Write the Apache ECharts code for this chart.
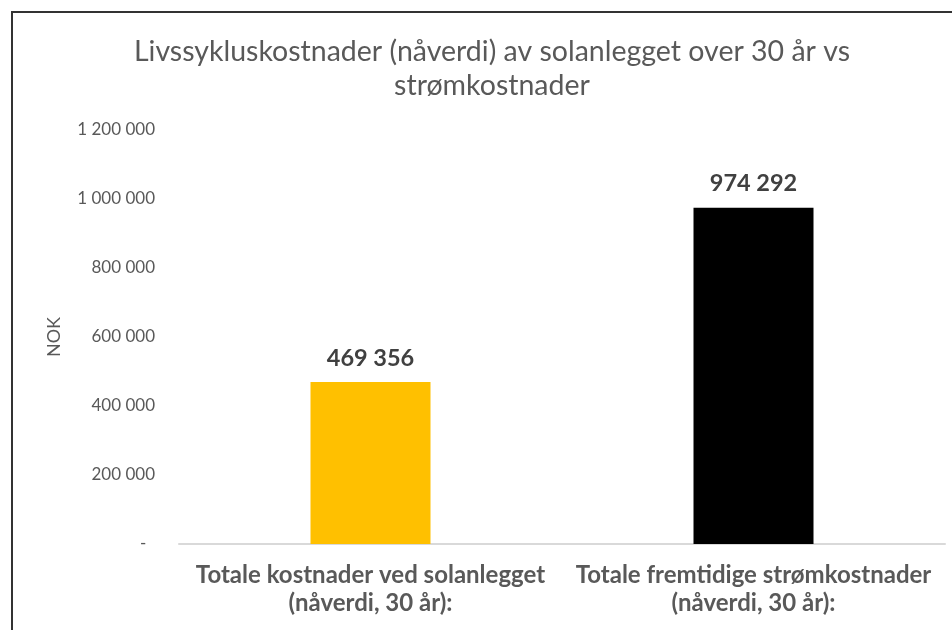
<!DOCTYPE html>
<html>
<head>
<meta charset="utf-8">
<script src="https://cdn.jsdelivr.net/npm/echarts@6/dist/echarts.min.js"></script>
<style>
  html, body { margin: 0; padding: 0; background: #fff; }
  #chart { width: 952px; height: 630px; }
</style>
</head>
<body>
<div id="chart"></div>
<script>
var categories = ['Totale kostnader ved solanlegget\n(nåverdi, 30 år):', 'Totale fremtidige strømkostnader\n(nåverdi, 30 år):'];
var values = [469356, 974292];
var barColors = ['#FFC000', '#000000'];
var yTicks = [0, 200000, 400000, 600000, 800000, 1000000, 1200000];

// tusenskille med mellomrom, null vises som "-"
function nok(v) {
    if (v === 0) return '-  ';
    return String(v).replace(/\B(?=(\d{3})+(?!\d))/g, ' ');
}

var myChart = echarts.init(document.getElementById('chart'));
var option = {
    animation: false,
    title: {
        text: 'Livssykluskostnader (nåverdi) av solanlegget over 30 år vs\nstrømkostnader',
        left: 487,
        textAlign: 'center',
        top: 30,
        textStyle: {
            fontFamily: 'Lato',
            fontSize: 28.5,
            fontWeight: 'normal',
            color: '#595959',
            lineHeight: 34
        }
    },
    graphic: [
        { type: 'line', shape: { x1: 11, y1: 12, x2: 952, y2: 12 }, style: { stroke: '#333', lineWidth: 2 } },
        { type: 'line', shape: { x1: 12, y1: 11, x2: 12, y2: 630 }, style: { stroke: '#333', lineWidth: 2 } }
    ],
    grid: {
        left: 179,
        right: 7,
        top: 130,
        bottom: 86
    },
    xAxis: {
        type: 'category',
        data: categories,
        axisLine: { lineStyle: { color: '#D9D9D9', width: 2 } },
        axisTick: { show: false },
        axisLabel: {
            margin: 17,
            fontFamily: 'Lato',
            fontSize: 24,
            fontWeight: 'bold',
            color: '#595959',
            lineHeight: 28,
            interval: 0
        }
    },
    yAxis: {
        type: 'value',
        min: yTicks[0],
        max: yTicks[yTicks.length - 1],
        interval: 200000,
        name: 'NOK',
        nameLocation: 'middle',
        nameGap: 116,
        nameTextStyle: { fontFamily: 'Lato', fontSize: 18, color: '#595959' },
        splitLine: { show: false },
        axisLine: { show: false },
        axisTick: { show: false },
        axisLabel: {
            margin: 24,
            fontFamily: 'Lato',
            fontSize: 17,
            color: '#595959',
            formatter: nok
        }
    },
    series: [
        {
            type: 'bar',
            barWidth: 120,
            data: values.map(function (v, i) {
                return { value: v, itemStyle: { color: barColors[i] } };
            }),
            label: {
                show: true,
                position: 'top',
                distance: 12,
                fontFamily: 'Lato',
                fontSize: 23.5,
                fontWeight: 'bold',
                color: '#404040',
                formatter: function (p) { return nok(p.value); }
            }
        }
    ]
};
myChart.setOption(option);
</script>
</body>
</html>
